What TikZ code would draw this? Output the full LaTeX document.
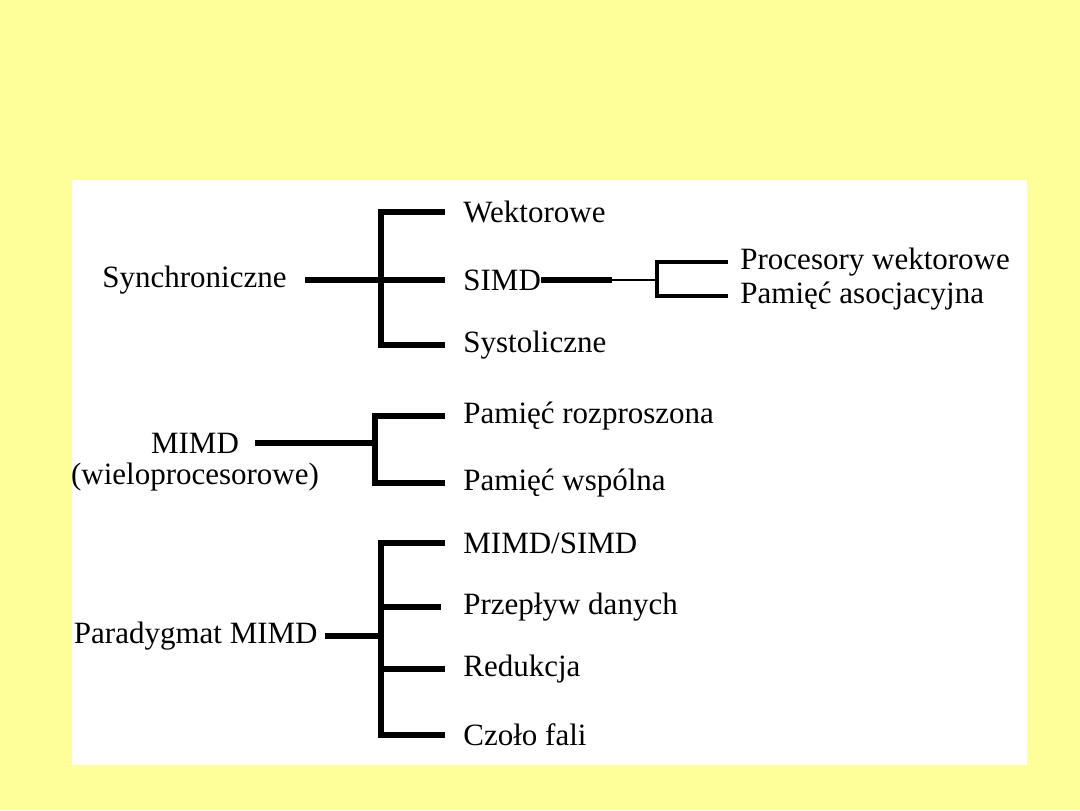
\documentclass[tikz,border=0pt]{standalone}
\usepackage{fontspec}
\setmainfont{Liberation Serif}
\definecolor{paleyellow}{RGB}{255,255,153}

\begin{document}
\begin{tikzpicture}[x=0.5pt,y=-0.5pt,
    lbl/.style={inner xsep=0pt, inner ysep=0pt, font=\fontsize{15.5}{18}\selectfont},
    fork/.style={line width=2.6pt},
    subfork/.style={line width=2.2pt},
    link/.style={line width=1.4pt}]
    % Page and sheet
    \fill[paleyellow] (0,0) rectangle (1080,810);
    \fill[white] (72,180) rectangle (1027,765);
    \useasboundingbox (0,0) rectangle (1080,810);
    % Synchroniczne
    \node[lbl, anchor=east] (syn) at (287,280) {Synchroniczne};
    \node[lbl, anchor=west] (wek) at (463,212) {Wektorowe};
    \node[lbl, anchor=west] (sim) at (463,280) {SIMD};
    \node[lbl, anchor=west] (sys) at (463,345) {Systoliczne};
    \coordinate (s1) at (381,280);
    \draw[fork, shorten <=9pt, shorten >=9pt] (syn.east) -- (sim.west);
    \draw[fork, shorten <=9pt, shorten >=9pt] (wek.west) -| (s1) |- (sys.west);
    % SIMD split
    \node[lbl, anchor=west] (pro) at (740,262) {Procesory wektorowe};
    \node[lbl, anchor=west] (pam) at (740,296) {Pamięć asocjacyjna};
    \coordinate (p1) at (612,280);
    \coordinate (s2) at (657,280);
    \draw[fork] (sim.east) -- (p1);
    \draw[link] (p1) -- (s2);
    \draw[subfork, shorten <=6pt, shorten >=6pt] (pro.west) -| (s2) |- (pam.west);
    % MIMD
    \node[lbl] (mimd) at (195,443) {MIMD};
    \node[lbl] (wiel) at (195,477) {(wieloprocesorowe)};
    \node[lbl, anchor=west] (roz) at (463,416) {Pamięć rozproszona};
    \node[lbl, anchor=west] (wsp) at (463,483) {Pamięć wspólna};
    \coordinate (m1) at (375,443);
    \draw[fork, shorten <=8pt] (mimd.east) -- (m1);
    \draw[fork, shorten <=9pt, shorten >=9pt] (roz.west) -| (m1) |- (wsp.west);
    % Paradygmat MIMD
    \node[lbl, anchor=east] (par) at (318,636) {Paradygmat MIMD};
    \node[lbl, anchor=west] (mis) at (463,543) {MIMD/SIMD};
    \node[lbl, anchor=west] (prz) at (463,607) {Przepływ danych};
    \node[lbl, anchor=west] (red) at (463,669) {Redukcja};
    \node[lbl, anchor=west] (czo) at (463,735) {Czoło fali};
    \coordinate (r1) at (381,636);
    \draw[fork, shorten <=3.5pt] (par.east) -- (r1);
    \draw[fork, shorten <=9pt, shorten >=9pt] (mis.west) -| (r1) |- (czo.west);
    \draw[fork, shorten >=11pt] (r1 |- prz.west) -- (prz.west);
    \draw[fork, shorten >=9pt] (r1 |- red.west) -- (red.west);
\end{tikzpicture}
\end{document}
